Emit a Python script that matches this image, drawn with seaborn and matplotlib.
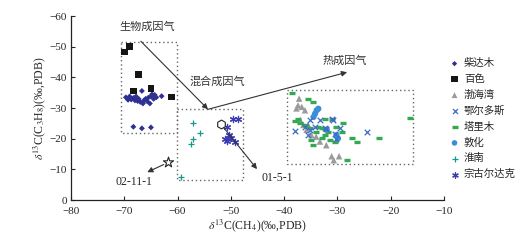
import numpy as np
import pandas as pd
import matplotlib
matplotlib.use("Agg")
import matplotlib.pyplot as plt
import seaborn as sns
from matplotlib.patches import Rectangle

sns.set_style("ticks")
plt.rcParams['font.family'] = ['Liberation Serif', 'Noto Sans CJK SC', 'DejaVu Sans']
plt.rcParams['mathtext.fontset'] = 'stix'

# ---- data (delta13C CH4, delta13C C3H8) ----
qdm_x = [-69.7, -69.3, -69.0, -68.7, -68.3, -68.0, -67.8, -67.5, -67.3, -67.0, -66.7, -66.5,
         -66.3, -66.0, -65.7, -65.5, -65.2, -65.0, -64.8, -64.5, -64.3, -64.0, -63.0,
         -68.3, -66.7, -65.0]
qdm_y = [-33.5, -32.7, -33.8, -32.8, -33.3, -32.5, -33.8, -32.3, -33.0, -32.0, -35.6, -31.5,
         -32.5, -33.0, -32.2, -33.4, -31.5, -33.8, -34.5, -33.0, -34.3, -33.5, -33.9,
         -23.9, -23.4, -23.7]

bs_x = [-69.0, -69.9, -67.4, -68.3, -65.0, -61.1]
bs_y = [-50.2, -48.3, -41.0, -35.6, -36.4, -33.6]

bhw_x = [-37.2, -37.4, -36.7, -36.1, -37.7, -37.0, -36.4, -35.5, -35.8, -34.9, -34.0, -33.3,
         -32.1, -31.1, -29.7, -30.7]
bhw_y = [-33.1, -30.9, -30.4, -29.3, -29.9, -26.1, -24.5, -24.5, -22.9, -21.2, -20.7, -19.1,
         -17.9, -14.3, -14.3, -13.0]

eeds_x = [-38.0, -35.2, -33.3, -30.8, -32.3, -36.1, -34.2, -29.5, -30.5, -35.5, -24.5, -30.2,
          -31.1, -32.2, -35.2]
eeds_y = [-22.5, -26.1, -26.1, -26.1, -23.4, -23.9, -23.9, -23.4, -21.4, -21.2, -22.1, -19.8,
          -26.3, -23.3, -22.8]

tlm_x = [-38.6, -35.5, -34.6, -38.0, -37.0, -36.1, -35.2, -33.6, -34.0, -32.3, -31.7, -33.0,
         -31.4, -30.5, -29.2, -28.9, -32.3, -31.1, -34.9, -34.6, -27.3, -26.4, -28.3, -37.4,
         -30.2, -33.0, -16.4, -22.2]
tlm_y = [-34.8, -33.1, -32.0, -25.7, -25.0, -24.4, -23.4, -23.9, -22.2, -21.2, -22.2, -20.1,
         -19.5, -19.0, -22.2, -25.0, -26.6, -26.6, -19.5, -17.9, -20.1, -19.0, -13.0, -26.6,
         -23.9, -23.4, -26.9, -20.3]

dh_x = [-33.9, -34.2, -34.5, -33.6, -30.2, -29.9, -32.0]
dh_y = [-29.3, -28.2, -27.1, -29.8, -21.2, -20.1, -23.0]

hn_x = [-57.2, -55.8, -57.1, -57.4, -59.4]
hn_y = [-25.3, -21.9, -19.8, -18.2, -7.6]

zgedk_x = [-49.6, -48.6, -50.7, -50.3, -51.1, -50.5, -50.0, -49.2, -50.8]
zgedk_y = [-26.3, -26.3, -23.9, -21.2, -19.8, -19.8, -20.1, -19.0, -19.3]

# special samples
star_pt = (-61.8, -12.4)
circle_pt = (-51.9, -24.8)

# dotted zone boxes: (xmin, xmax, ymin, ymax)
bio_box = (-70.6, -60.1, -51.5, -21.8)
mix_box = (-60.1, -47.7, -29.6, -6.5)
thermo_box = (-39.5, -15.8, -35.8, -11.7)

groups = [
    ('柴达木', qdm_x, qdm_y, 'D', '#2e3192', 9),
    ('百色', bs_x, bs_y, 's', '#161616', 24),
    ('渤海湾', bhw_x, bhw_y, '^', '#9b9b9b', 22),
    ('鄂尔多斯', eeds_x, eeds_y, 'x', '#3c6cc8', 16),
    ('塔里木', tlm_x, tlm_y, '_', '#35a852', 20),
    ('敦化', dh_x, dh_y, 'o', '#3b8fd9', 20),
    ('淮南', hn_x, hn_y, '+', '#159a8c', 22),
    ('宗古尔达克', zgedk_x, zgedk_y, (6, 2, 0), '#3b3bb3', 20),
]

fig = plt.figure(figsize=(5.24, 2.44), dpi=100)
ax = fig.add_axes([0.1355, 0.18, 0.712, 0.754])

draw_order = [0, 1, 2, 4, 5, 3, 6, 7]
for i in draw_order:
    name, xs, ys, mk, col, s = groups[i]
    df = pd.DataFrame({'x': xs, 'y': ys})
    if mk in ('x', '+', '_') or isinstance(mk, tuple):
        lw = 2.4 if mk == '_' else 0.9
        sns.scatterplot(data=df, x='x', y='y', ax=ax, marker=mk, color=col, s=s,
                        linewidth=lw, label=name, zorder=3)
    else:
        sns.scatterplot(data=df, x='x', y='y', ax=ax, marker=mk, color=col, s=s,
                        edgecolor='none', linewidth=0, label=name, zorder=3)

# special samples
sns.scatterplot(x=[star_pt[0]], y=[star_pt[1]], ax=ax, marker='*', s=60,
                facecolor='white', edgecolor='#222222', linewidth=0.8, zorder=4)
sns.scatterplot(x=[circle_pt[0]], y=[circle_pt[1]], ax=ax, marker='h', s=40,
                facecolor='white', edgecolor='#222222', linewidth=0.8, zorder=4)

# zone boxes
for (x0, x1, y0, y1) in [bio_box, mix_box, thermo_box]:
    ax.add_patch(Rectangle((x0, y0), x1 - x0, y1 - y0, fill=False,
                           ls=(0, (1, 2)), lw=1.0, ec='#666666', zorder=2))

arrow = dict(arrowstyle='-|>', color='#333333', lw=0.8, mutation_scale=8, shrinkA=0, shrinkB=0)
ax.annotate('', xy=(-54.3, -29.6), xytext=(-66.9, -51.8), arrowprops=arrow)
ax.annotate('', xy=(-28.2, -41.7), xytext=(-54.3, -29.6), arrowprops=arrow)
ax.annotate('', xy=(-65.7, -9.1), xytext=(-62.6, -11.6), arrowprops=arrow)
ax.annotate('', xy=(-45.1, -10.1), xytext=circle_pt, arrowprops=arrow)

cjk = ['Noto Sans CJK SC', 'DejaVu Sans']
ax.text(-65.7, -56.7, '生物成因气', family=cjk, fontsize=8, ha='center', va='center', color='#333333')
ax.text(-52.6, -38.8, '混合成因气', family=cjk, fontsize=8, ha='center', va='center', color='#333333')
ax.text(-28.6, -45.6, '热成因气', family=cjk, fontsize=8, ha='center', va='center', color='#333333')
ax.text(-68.2, -5.9, '02-11-1', fontsize=8.5, ha='center', va='center')
ax.text(-41.3, -7.2, '01-5-1', fontsize=8.5, ha='center', va='center')

ax.set_xlim(-80, -10)
ax.set_ylim(0, -60)
ax.set_xticks(np.arange(-80, -9, 10))
ax.set_yticks(np.arange(0, -61, -10))
ax.tick_params(direction='in', length=3, width=0.8, labelsize=8)
ax.tick_params(axis='x', pad=5)
ax.tick_params(axis='y', pad=3)
for sp in ['left', 'bottom']:
    ax.spines[sp].set_linewidth(0.9)
    ax.spines[sp].set_color('#222222')
sns.despine(ax=ax)

ax.set_xlabel(r'$\delta^{13}$C(CH$_4$)(‰,PDB)', fontsize=8.5, labelpad=1)
ax.set_ylabel(r'$\delta^{13}$C(C$_3$H$_8$)(‰,PDB)', fontsize=8.5, labelpad=1)

handles, labels = ax.get_legend_handles_labels()
order = [labels.index(g[0]) for g in groups]
leg = ax.legend([handles[i] for i in order], [labels[i] for i in order],
                loc='upper left', bbox_to_anchor=(1.0, 0.81), frameon=False,
                prop={'family': cjk, 'size': 7.5}, handlelength=0.6, handletextpad=0.6,
                labelspacing=0.55, markerscale=0.9, borderaxespad=0.3)

fig.savefig('out.png', dpi=100)
